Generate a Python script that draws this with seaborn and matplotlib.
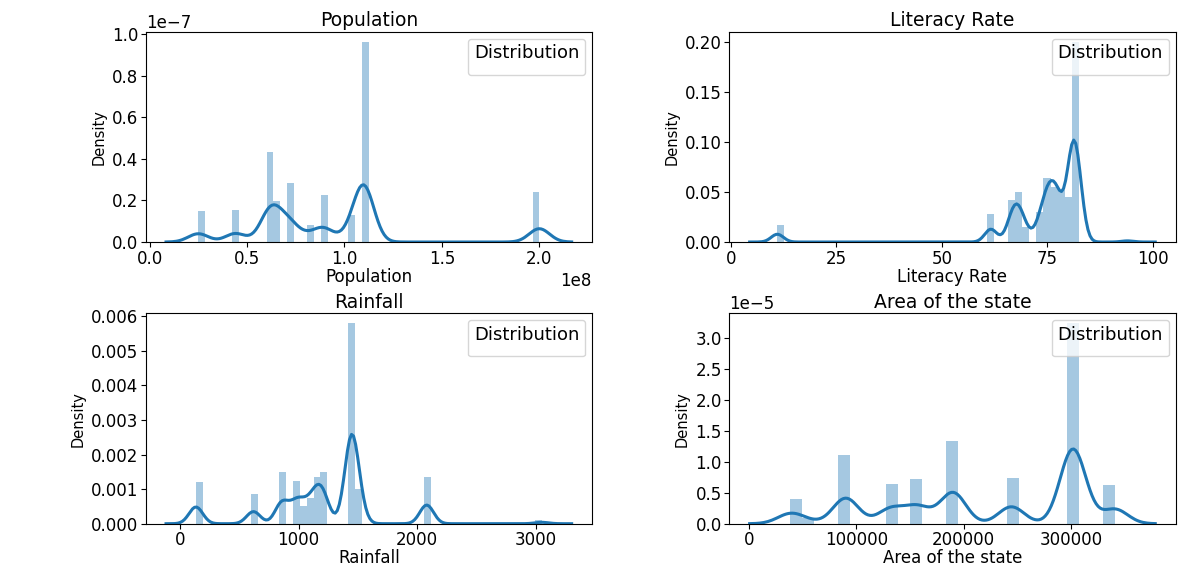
import numpy as np
import matplotlib
matplotlib.use("Agg")
import matplotlib.pyplot as plt
from matplotlib.ticker import MultipleLocator
import seaborn as sns

# ---- data (values and their relative bar heights) ----
pop_values = [0.25e8, 0.44e8, 0.615e8, 0.65e8, 0.72e8, 0.82e8, 0.895e8, 1.035e8, 1.10e8, 2.0e8]
pop_weights = [0.149, 0.153, 0.435, 0.200, 0.287, 0.081, 0.229, 0.133, 0.970, 0.240]

lit_values = [11.0, 61.6, 66.6, 68.2, 69.9, 73.2, 74.9, 76.4, 77.6, 80.4, 81.0, 82.1, 94.0]
lit_weights = [0.017, 0.028, 0.042, 0.050, 0.015, 0.030, 0.064, 0.055, 0.052, 0.045, 0.100, 0.100, 0.0025]

rain_values = [135, 620, 860, 980, 1035, 1095, 1155, 1210, 1445, 1500, 2080, 3050]
rain_weights = [1.21, 0.875, 1.50, 1.25, 0.51, 0.75, 1.35, 1.50, 5.81, 1.00, 1.35, 0.10]

area_values = [38000, 52000, 90000, 132000, 157000, 190000, 244500, 302000, 341000]
area_weights = [0.405, 0.097, 1.11, 0.64, 0.72, 1.35, 0.735, 3.25, 0.63]

titles = ["Population", "Literacy Rate", "Rainfall", "Area of the state"]

# tick spacing (x, y) per panel
x_steps = [0.5e8, 25, 1000, 100000]
y_steps = [0.2e-7, 0.05, 0.001, 0.5e-5]

plt.rcParams.update({
    "font.family": ["DejaVu Sans"],
    "xtick.labelsize": 12,
    "ytick.labelsize": 12,
    "axes.titlesize": 13.5,
    "axes.labelsize": 12,
    "legend.title_fontsize": 13,
})

fig, axes = plt.subplots(2, 2, figsize=(11.85, 5.68), dpi=100)
fig.subplots_adjust(left=0.123, right=0.992, bottom=0.078, top=0.944,
                    wspace=0.308, hspace=0.34)

panels = [
    (axes[0, 0], pop_values, pop_weights, 50, 5.2e6),
    (axes[0, 1], lit_values, lit_weights, 50, 1.45),
    (axes[1, 0], rain_values, rain_weights, 50, 58.0),
    (axes[1, 1], area_values, area_weights, 27, 12000.0),
]

blue = "#1f77b4"
for i, (ax, vals, wts, nbins, sigma) in enumerate(panels):
    name = titles[i]
    sns.histplot(x=vals, weights=wts, bins=nbins, stat="density",
                 color=blue, alpha=0.4, linewidth=0, ax=ax)
    std = float(np.sqrt(np.cov(np.asarray(vals, float), aweights=np.asarray(wts, float))))
    sns.kdeplot(x=vals, weights=wts, bw_method=sigma / std,
                color=blue, linewidth=2.2, ax=ax)
    ax.xaxis.set_major_locator(MultipleLocator(x_steps[i]))
    ax.yaxis.set_major_locator(MultipleLocator(y_steps[i]))
    ax.tick_params(pad=2)
    ax.set_title(name, pad=4)
    ax.set_xlabel(name, labelpad=0)
    ax.set_ylabel("Density", fontsize=10.5)
    ax.legend(title="Distribution", loc="upper right")

fig.savefig("out.png", dpi=100)
